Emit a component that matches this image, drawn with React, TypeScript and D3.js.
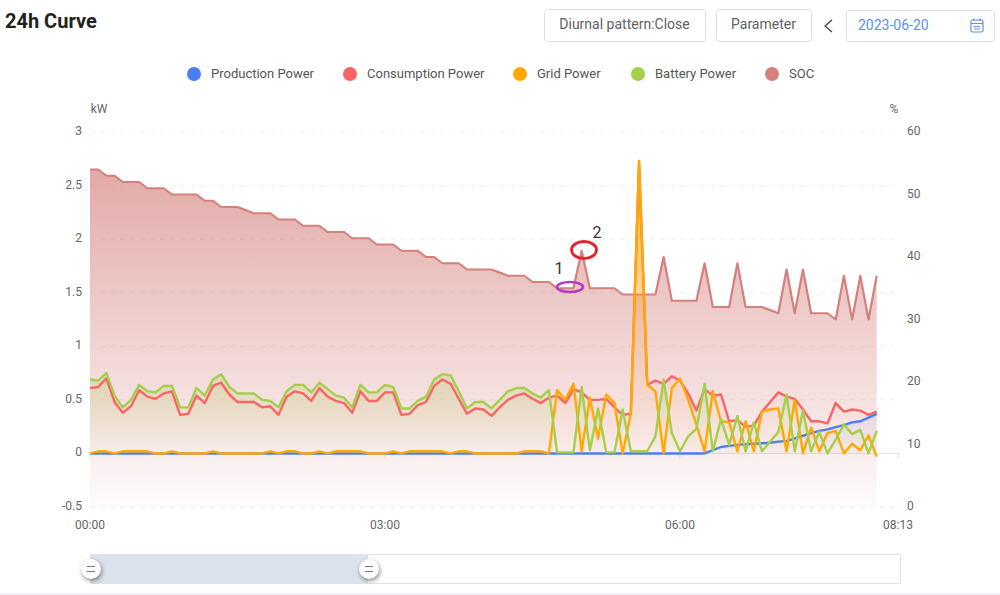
import * as d3 from "d3";

const stepMinutes = 5;
const xTickMinutes = [0, 180, 360, 493];
const xTickLabels = ["00:00", "03:00", "06:00", "08:13"];
const kwTicks = [-0.5, 0, 0.5, 1, 1.5, 2, 2.5, 3];
const socTicks = [0, 10, 20, 30, 40, 50, 60];

const production = [
  0, 0, 0, 0, 0, 0, 0, 0, 0, 0, 0, 0, 0, 0, 0, 0, 0, 0, 0, 0, 0, 0, 0, 0, 0,
  0, 0, 0, 0, 0, 0, 0, 0, 0, 0, 0, 0, 0, 0, 0, 0, 0, 0, 0, 0, 0, 0, 0, 0, 0,
  0, 0, 0, 0, 0, 0, 0, 0, 0, 0, 0, 0, 0, 0, 0, 0, 0, 0, 0, 0, 0, 0, 0, 0, 0, 0,
  0.03, 0.06, 0.07, 0.08, 0.085, 0.09, 0.095, 0.1, 0.11, 0.115, 0.14, 0.165, 0.19, 0.21, 0.225, 0.245, 0.265, 0.29, 0.3, 0.335, 0.37,
];
const consumption = [
  0.61, 0.62, 0.7, 0.48, 0.38, 0.44, 0.59, 0.53, 0.51, 0.56, 0.58, 0.36, 0.37, 0.54, 0.47, 0.63, 0.66, 0.55, 0.48, 0.48,
  0.48, 0.43, 0.44, 0.36, 0.53, 0.58, 0.56, 0.49, 0.61, 0.53, 0.49, 0.47, 0.38, 0.58, 0.49, 0.49, 0.57, 0.57, 0.36, 0.37,
  0.45, 0.48, 0.63, 0.69, 0.65, 0.51, 0.37, 0.42, 0.41, 0.35, 0.43, 0.5, 0.54, 0.56, 0.51, 0.47, 0.52, 0.54, 0.47, 0.6,
  0.57, 0.5, 0.5, 0.51, 0.43, 0.36, 0.37, 2.72, 0.64, 0.68, 0.65, 0.72, 0.68, 0.56, 0.4, 0.6, 0.54, 0.55, 0.3, 0.31,
  0.25, 0.26, 0.39, 0.48, 0.57, 0.53, 0.51, 0.41, 0.3, 0.3, 0.28, 0.47, 0.39, 0.41, 0.4, 0.36, 0.39,
];
const grid = [
  0, 0.02, 0.02, 0, 0.02, 0.02, 0.02, 0.02, 0, 0, 0.02, 0, 0, 0, 0, 0.02, 0, 0, 0, 0,
  0, 0, 0.02, 0, 0.02, 0.02, 0, 0, 0.02, 0, 0.02, 0.02, 0.02, 0.02, 0, 0, 0, 0.02, 0, 0.02,
  0.02, 0.02, 0.02, 0.02, 0, 0.02, 0.02, 0, 0, 0, 0, 0, 0, 0.02, 0.02, 0.02, 0, 0.59, 0.5, 0.65,
  0.02, 0.52, 0.14, 0.55, 0.47, 0, 0.37, 2.73, 0.64, 0.58, 0, 0.61, 0.7, 0.5, 0.27, 0.02, 0.58, 0.3, 0.29, 0.02,
  0.3, 0.02, 0.39, 0.41, 0.42, 0.02, 0.5, 0, 0.24, 0.02, 0.19, 0.21, 0, 0.09, 0.03, 0.17, -0.03,
];
const battery = [
  0.69, 0.68, 0.75, 0.54, 0.43, 0.5, 0.64, 0.58, 0.57, 0.63, 0.63, 0.43, 0.43, 0.61, 0.54, 0.69, 0.74, 0.62, 0.56, 0.56,
  0.56, 0.5, 0.49, 0.43, 0.58, 0.64, 0.64, 0.57, 0.66, 0.6, 0.54, 0.52, 0.43, 0.64, 0.57, 0.57, 0.64, 0.62, 0.42, 0.42,
  0.49, 0.53, 0.69, 0.74, 0.73, 0.58, 0.42, 0.48, 0.48, 0.42, 0.5, 0.58, 0.61, 0.61, 0.56, 0.52, 0.59, 0.01, 0.01, 0.01,
  0.62, 0.03, 0.42, 0.01, 0.01, 0.41, 0.02, 0.02, 0.02, 0.16, 0.69, 0.19, 0.02, 0.16, 0.23, 0.65, 0.02, 0.32, 0.08, 0.35,
  0.02, 0.29, 0.02, 0.11, 0.2, 0.55, 0.02, 0.4, 0.02, 0.2, 0, 0.13, 0.27, 0.18, 0.22, 0, 0.21,
];
const soc = [
  54, 54, 53, 53, 52, 52, 52, 51, 51, 51, 50, 50, 50, 50, 49, 49, 48, 48, 48, 47.5,
  47, 47, 47, 46, 46, 46, 45, 45, 45, 44, 44, 44, 43, 43, 43, 42, 42, 42, 41, 41,
  41, 40, 40, 39, 39, 39, 38, 38, 38, 38, 37.5, 37, 37, 37, 36, 36, 36, 35, 35, 35,
  41, 35, 35, 35, 35, 34, 34, 34, 34, 34, 40, 33, 33, 33, 33, 39, 32, 32, 32, 39,
  32, 32, 32, 31.5, 31, 38, 31, 38, 31, 31, 31, 30, 37, 30, 37, 30, 37,
];

const legendNames = ["Production Power", "Consumption Power", "Grid Power", "Battery Power", "SOC"];
const legendColors = ["#4a7ff0", "#f96464", "#ffa800", "#a5cf4a", "#d4817d"];
const legendDots = [194, 350, 520, 638, 772];

const font = "Roboto, sans-serif";
const left = 90, right = 898, top = 132, bottom = 507;

const x = d3.scaleLinear().domain([0, 493]).range([left, right]);
const yKw = d3.scaleLinear().domain([-0.5, 3]).range([bottom, top]);
const ySoc = d3.scaleLinear().domain([0, 60]).range([bottom, top]);

function linePath(values: number[], y: d3.ScaleLinear<number, number>) {
  return d3.line<number>().x((_, i) => x(i * stepMinutes)).y((d) => y(d))(values)!;
}
function areaPath(values: number[], y: d3.ScaleLinear<number, number>, base: number) {
  return d3.area<number>().x((_, i) => x(i * stepMinutes)).y0(y(base)).y1((d) => y(d))(values)!;
}

// grid's spike dominates its box, so its fill has to drop off quickly
const powerSeries = [
  { id: "prod", values: production, color: legendColors[0], stops: [[0, 0.1], [1, 0.01]] },
  { id: "cons", values: consumption, color: legendColors[1], stops: [[0, 0.2], [1, 0.01]] },
  { id: "grid", values: grid, color: legendColors[2], stops: [[0, 0.8], [0.4, 0.38], [0.55, 0.12], [1, 0]] },
  { id: "batt", values: battery, color: legendColors[3], stops: [[0, 0.25], [1, 0.01]] },
];

function Button({ bx, w, label }: { bx: number; w: number; label: string }) {
  return (
    <g>
      <rect x={bx + 0.5} y={9.5} width={w} height={32} rx={3} fill="#fff" stroke="#dcdfe6" />
      <text x={bx + w / 2} y={29} textAnchor="middle" fontSize={14} fill="#606266">{label}</text>
    </g>
  );
}

function Handle({ cx }: { cx: number }) {
  return (
    <g>
      <circle cx={cx} cy={569} r={10} fill="#fff" style={{ filter: "drop-shadow(1px 2px 2px rgba(0,0,0,0.45))" }} />
      <path d={`M${cx - 4} 566.5H${cx + 4}M${cx - 4} 571.5H${cx + 4}`} stroke="#777" strokeWidth={1} />
    </g>
  );
}

export default function App() {
  return (
    <svg width={1000} height={595} fontFamily={font} style={{ position: "absolute", left: 0, top: 0, background: "#fff" }}>
      <defs>
        <linearGradient id="fill-soc" x1="0" y1="0" x2="0" y2="1">
          <stop offset="0" stopColor={legendColors[4]} stopOpacity={0.68} />
          <stop offset="1" stopColor={legendColors[4]} stopOpacity={0.03} />
        </linearGradient>
        {powerSeries.map((s) => (
          <linearGradient key={s.id} id={`fill-${s.id}`} x1="0" y1="0" x2="0" y2="1">
            {s.stops.map(([o, a]) => (
              <stop key={o} offset={o} stopColor={s.color} stopOpacity={a} />
            ))}
          </linearGradient>
        ))}
      </defs>

      <text x={5} y={28} fontSize={20} fontWeight={700} fill="#222">24h Curve</text>
      <Button bx={544} w={161} label="Diurnal pattern:Close" />
      <Button bx={716} w={95} label="Parameter" />
      <path d="M832 20L825 26L832 32" fill="none" stroke="#444" strokeWidth={1.3} />
      <rect x={846.5} y={10.5} width={148} height={31} rx={3} fill="#fff" stroke="#dcdfe6" />
      <text x={858} y={30} fontSize={14} fill="#5b8ff9">2023-06-20</text>
      <g fill="none" stroke="#5b8ff9" strokeWidth={1.2}>
        <rect x={971} y={20} width={12} height={12} rx={1.5} />
        <path d="M971 23.5H983M974 18.5V21M980 18.5V21M974 26.5H980M974 29H980" />
      </g>

      {legendNames.map((name, i) => (
        <g key={name}>
          <circle cx={legendDots[i]} cy={74} r={7} fill={legendColors[i]} />
          <text x={legendDots[i] + 17} y={78} fontSize={13} fill="#555">{name}</text>
        </g>
      ))}

      <text x={99} y={113} textAnchor="middle" fontSize={12} fill="#666">kW</text>
      <text x={894} y={113} textAnchor="middle" fontSize={12} fill="#666">%</text>

      {kwTicks.filter((t) => t !== 0).map((t) => (
        <line key={t} x1={left} x2={900} y1={yKw(t)} y2={yKw(t)} stroke="#efefef" strokeDasharray="5 5" />
      ))}
      <line x1={left} x2={900} y1={yKw(0)} y2={yKw(0)} stroke="#e2e2e2" />
      {xTickMinutes.map((t) => (
        <line key={t} x1={x(t)} x2={x(t)} y1={yKw(0)} y2={yKw(0) + 5} stroke="#e2e2e2" />
      ))}
      {kwTicks.map((t) => (
        <text key={t} x={82} y={yKw(t) + 3} textAnchor="end" fontSize={12} fill="#666">{t}</text>
      ))}
      {socTicks.map((t) => (
        <text key={t} x={907} y={ySoc(t) + 3} fontSize={12} fill="#666">{t}</text>
      ))}
      {xTickMinutes.map((t, i) => (
        <text key={t} x={x(t)} y={529} textAnchor="middle" fontSize={12} fill="#666">{xTickLabels[i]}</text>
      ))}

      <path d={areaPath(soc, ySoc, 0)} fill="url(#fill-soc)" />
      <path d={linePath(soc, ySoc)} fill="none" stroke={legendColors[4]} strokeWidth={2.2} strokeLinejoin="round" />

      {powerSeries.map((s) => (
        <path key={s.id} d={areaPath(s.values, yKw, 0)} fill={`url(#fill-${s.id})`} />
      ))}
      {powerSeries.map((s) => (
        <path key={s.id} d={linePath(s.values, yKw)} fill="none" stroke={s.color} strokeWidth={2.4} strokeLinejoin="round" />
      ))}

      <ellipse cx={570} cy={287} rx={13} ry={5} fill="none" stroke="#b43cc0" strokeWidth={2.5} />
      <ellipse cx={584} cy={250} rx={12.5} ry={8.5} fill="none" stroke="#e8202c" strokeWidth={2.8} />
      <text x={559} y={274} textAnchor="middle" fontSize={16} fill="#333">1</text>
      <text x={597} y={238} textAnchor="middle" fontSize={16} fill="#333">2</text>

      <rect x={90.5} y={554.5} width={810} height={29} fill="#fff" stroke="#e3e3e3" />
      <rect x={91} y={555} width={277} height={29} fill="#dbe2ec" />
      <Handle cx={91} />
      <Handle cx={369} />
      <rect x={0} y={593} width={1000} height={2} fill="#f2f2f6" />
    </svg>
  );
}
